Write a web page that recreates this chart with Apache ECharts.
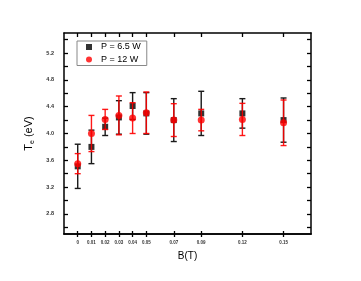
<!DOCTYPE html>
<html>
<head>
<meta charset="utf-8">
<script src="https://cdn.jsdelivr.net/npm/echarts@6/dist/echarts.min.js"></script>
<style>
  html, body { margin: 0; padding: 0; background: #fff; }
  #chart { width: 361px; height: 281px; }
</style>
</head>
<body>
<div id="chart"></div>
<script>
// magnetic field B (T)
const bField = [0, 0.01, 0.02, 0.03, 0.04, 0.05, 0.07, 0.09, 0.12, 0.15]
const xTickLabels = ['0', '0.01', '0.02', '0.03', '0.04', '0.05', '0.07', '0.09', '0.12', '0.15']

// P = 6.5 W
const te65 = [3.51, 3.80, 4.10, 4.24, 4.41, 4.30, 4.20, 4.30, 4.30, 4.20]
const err65 = [0.33, 0.25, 0.13, 0.25, 0.20, 0.31, 0.32, 0.33, 0.22, 0.33]

// P = 12 W
const te12 = [3.55, 4.00, 4.21, 4.27, 4.23, 4.31, 4.20, 4.20, 4.21, 4.16]
const err12 = [0.15, 0.27, 0.15, 0.29, 0.23, 0.31, 0.245, 0.16, 0.24, 0.34]

const yTickLabels = [2.8, 3.2, 3.6, 4.0, 4.4, 4.8, 5.2]
const yTicks = [2.6, 2.8, 3.0, 3.2, 3.4, 3.6, 3.8, 4.0, 4.2, 4.4, 4.6, 4.8, 5.0, 5.2, 5.4]

const xMin = -0.01
const xMax = 0.17
const yMin = 2.5
const yMax = 5.5

const points = (ys) => bField.map((b, i) => [b, ys[i]])
const bars = (ys, errs) => bField.map((b, i) => [b, ys[i] - errs[i], ys[i] + errs[i]])

const errorBar = (color) => (params, api) => {
  const x = api.value(0)
  const lo = api.coord([x, api.value(1)])
  const hi = api.coord([x, api.value(2)])
  const half = 3
  const style = { stroke: color, lineWidth: 1.4 }
  return {
    type: 'group',
    children: [
      { type: 'line', shape: { x1: lo[0], y1: lo[1], x2: hi[0], y2: hi[1] }, style },
      { type: 'line', shape: { x1: lo[0] - half, y1: lo[1], x2: lo[0] + half, y2: lo[1] }, style },
      { type: 'line', shape: { x1: hi[0] - half, y1: hi[1], x2: hi[0] + half, y2: hi[1] }, style },
    ],
  }
}

const axisLine = { show: true, onZero: false, lineStyle: { color: '#000', width: 1.5 } }
const baseX = {
  type: 'value',
  min: xMin,
  max: xMax,
  splitLine: { show: false },
  axisLine,
}
const baseY = {
  type: 'value',
  min: yMin,
  max: yMax,
  splitLine: { show: false },
  axisLine,
}

const chart = echarts.init(document.getElementById('chart'))
chart.setOption({
  animation: false,
  backgroundColor: '#fff',
  grid: { left: 64, right: 50, top: 33, bottom: 47 },
  legend: {
    left: 77,
    top: 41,
    orient: 'vertical',
    padding: [1, 6, 1, 9],
    itemGap: 2.5,
    itemWidth: 6,
    itemHeight: 6,
    borderColor: '#888',
    borderWidth: 1,
    borderRadius: 0,
    textStyle: { fontFamily: 'Liberation Sans', fontSize: 9, lineHeight: 10, color: '#000', padding: [0, 0, 0, 4] },
    data: [
      { name: 'P = 6.5 W', icon: 'rect' },
      { name: 'P = 12 W', icon: 'circle' },
    ],
  },
  xAxis: [
    {
      ...baseX,
      position: 'bottom',
      name: 'B(T)',
      nameLocation: 'middle',
      nameGap: 17,
      nameTextStyle: { fontFamily: 'Liberation Sans', fontSize: 10, color: '#000' },
      axisTick: { show: true, inside: false, length: 3, customValues: bField, lineStyle: { color: '#000', width: 1.3 } },
      axisLabel: {
        customValues: bField,
        margin: 6,
        fontFamily: 'Liberation Sans',
        fontSize: 4.5,
        fontWeight: 'bold',
        color: '#333',
        formatter: (v) => xTickLabels[bField.indexOf(v)],
      },
    },
    {
      ...baseX,
      position: 'bottom',
      axisTick: { show: true, inside: true, length: 3, customValues: bField, lineStyle: { color: '#000', width: 1.3 } },
      axisLabel: { show: false },
    },
    {
      ...baseX,
      position: 'top',
      axisTick: { show: true, inside: true, length: 4, customValues: bField, lineStyle: { color: '#000', width: 1.3 } },
      axisLabel: { show: false },
    },
  ],
  yAxis: [
    {
      ...baseY,
      position: 'left',
      name: '{a|T}{b|e}{a| (eV)}',
      nameLocation: 'middle',
      nameRotate: 90,
      nameGap: 22,
      nameTextStyle: {
        fontFamily: 'Liberation Sans',
        color: '#000',
        rich: {
          a: { fontFamily: 'Liberation Sans', fontSize: 11, color: '#000' },
          b: { fontFamily: 'Liberation Sans', fontSize: 7, color: '#000', padding: [6, 0, 0, 0] },
        },
      },
      axisTick: { show: true, inside: true, length: 4, customValues: yTicks, lineStyle: { color: '#000', width: 1.3 } },
      axisLabel: {
        customValues: yTickLabels,
        margin: 10,
        fontFamily: 'Liberation Sans',
        fontSize: 5.5,
        fontWeight: 'bold',
        color: '#333',
        formatter: (v) => v.toFixed(1),
      },
    },
    {
      ...baseY,
      position: 'right',
      axisTick: { show: true, inside: true, length: 4, customValues: yTicks, lineStyle: { color: '#000', width: 1.3 } },
      axisLabel: { show: false },
    },
  ],
  series: [
    {
      name: 'err 6.5',
      type: 'custom',
      renderItem: errorBar('#1a1a1a'),
      data: bars(te65, err65),
      z: 1,
      silent: true,
    },
    {
      name: 'P = 6.5 W',
      type: 'scatter',
      symbol: 'rect',
      symbolSize: 6,
      itemStyle: { color: '#000' },
      data: points(te65),
      z: 2,
    },
    {
      name: 'err 12',
      type: 'custom',
      renderItem: errorBar('rgba(255,0,0,0.9)'),
      data: bars(te12, err12),
      z: 3,
      silent: true,
    },
    {
      name: 'P = 12 W',
      type: 'scatter',
      symbol: 'circle',
      symbolSize: 7,
      itemStyle: { color: '#ff0000' },
      data: points(te12),
      z: 4,
    },
  ],
})
</script>
</body>
</html>
